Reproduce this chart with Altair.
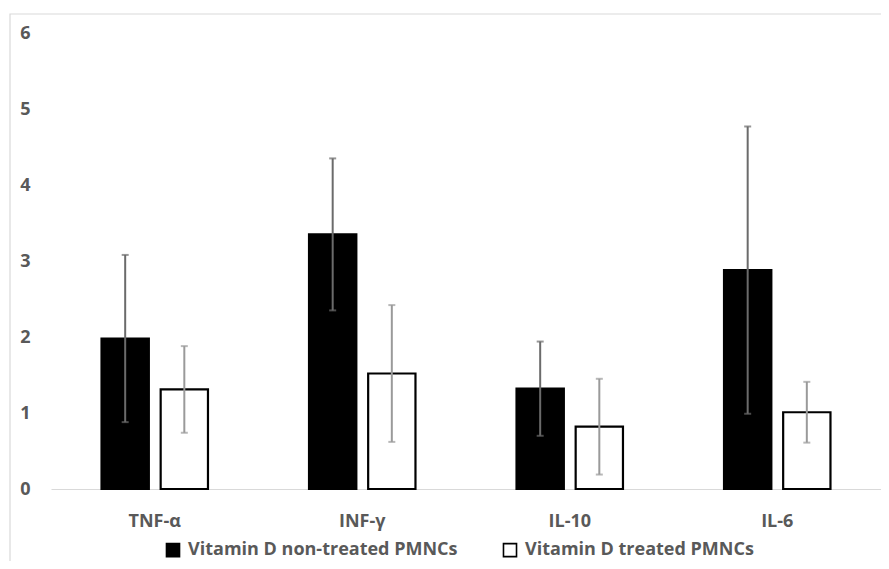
import altair as alt
import pandas as pd

categories = ["TNF-α", "INF-γ", "IL-10", "IL-6"]
series = ["Vitamin D non-treated PMNCs", "Vitamin D treated PMNCs"]
non_treated_mean = [1.98, 3.35, 1.32, 2.88]
non_treated_err = [1.10, 1.00, 0.62, 1.89]
treated_mean = [1.31, 1.52, 0.82, 1.01]
treated_err = [0.57, 0.90, 0.63, 0.40]

rows = []
for i, c in enumerate(categories):
    rows.append({"cat": c, "series": series[0], "mean": non_treated_mean[i],
                 "low": non_treated_mean[i] - non_treated_err[i],
                 "high": non_treated_mean[i] + non_treated_err[i]})
    rows.append({"cat": c, "series": series[1], "mean": treated_mean[i],
                 "low": treated_mean[i] - treated_err[i],
                 "high": treated_mean[i] + treated_err[i]})
df = pd.DataFrame(rows)

FONT = "Open Sans"
TXT = "#595959"
W, H = 830, 456
FS = 18

x_enc = alt.X("cat:N", sort=categories, title=None,
              scale=alt.Scale(paddingInner=0.43, paddingOuter=0.215),
              axis=alt.Axis(labelAngle=0, ticks=False, domainColor="#d9d9d9",
                            domainWidth=1.2, labelPadding=23, labelFont=FONT,
                            labelFontSize=FS, labelFontWeight="bold",
                            labelColor=TXT, grid=False))
x_plain = alt.X("cat:N", sort=categories)
xo_enc = alt.XOffset("series:N", sort=series,
                     scale=alt.Scale(paddingInner=0.2, paddingOuter=0.1))
y_scale = alt.Scale(domain=[0, 6], nice=False)

base = alt.Chart(df)

bars = base.mark_bar(stroke="black", strokeWidth=2.2).encode(
    x=x_enc,
    xOffset=xo_enc,
    y=alt.Y("mean:Q", scale=y_scale, title=None,
            axis=alt.Axis(values=[0, 1, 2, 3, 4, 5, 6], format="d", grid=False,
                          domain=False, ticks=False, labelPadding=21,
                          labelFont=FONT, labelFontSize=FS,
                          labelFontWeight="bold", labelColor=TXT)),
    fill=alt.Fill("series:N", sort=series,
                  scale=alt.Scale(domain=series, range=["#000000", "#ffffff"]),
                  legend=alt.Legend(title=None, orient="none", legendX=113,
                                    legendY=508, direction="horizontal",
                                    symbolType="square", symbolSize=170,
                                    symbolStrokeColor="black",
                                    symbolStrokeWidth=1.6,
                                    labelFont=FONT, labelFontSize=FS,
                                    labelFontWeight="bold", labelColor=TXT,
                                    columnPadding=42, labelOffset=6,
                                    labelLimit=400)),
)

err_color = alt.condition(alt.datum.series == series[0],
                          alt.value("#6b6b6b"), alt.value("#9a9a9a"))

rules = base.mark_rule(strokeWidth=2).encode(
    x=x_plain,
    xOffset=xo_enc,
    y=alt.Y("low:Q", scale=y_scale),
    y2="high:Q",
    stroke=err_color,
)

cap_hi = base.mark_tick(size=7, thickness=2, orient="horizontal").encode(
    x=x_plain,
    xOffset=xo_enc,
    y=alt.Y("high:Q", scale=y_scale),
    color=err_color,
)
cap_lo = base.mark_tick(size=7, thickness=2, orient="horizontal").encode(
    x=x_plain,
    xOffset=xo_enc,
    y=alt.Y("low:Q", scale=y_scale),
    color=err_color,
)

frame = alt.Chart(pd.DataFrame({"a": [0]})).mark_rect(
    fill=None, stroke="#d9d9d9", strokeWidth=1.2
).encode(
    x=alt.value(-41), x2=alt.value(W + 20),
    y=alt.value(-19), y2=alt.value(H + 100),
)

chart = alt.layer(frame, bars, rules, cap_hi, cap_lo).properties(
    width=W, height=H,
    background="white",
    autosize=alt.AutoSizeParams(type="none"),
    padding={"left": 43, "top": 25, "right": 0, "bottom": 72},
).configure_view(stroke=None)

chart.save("out.html", embed_options={"renderer": "svg", "actions": False})
